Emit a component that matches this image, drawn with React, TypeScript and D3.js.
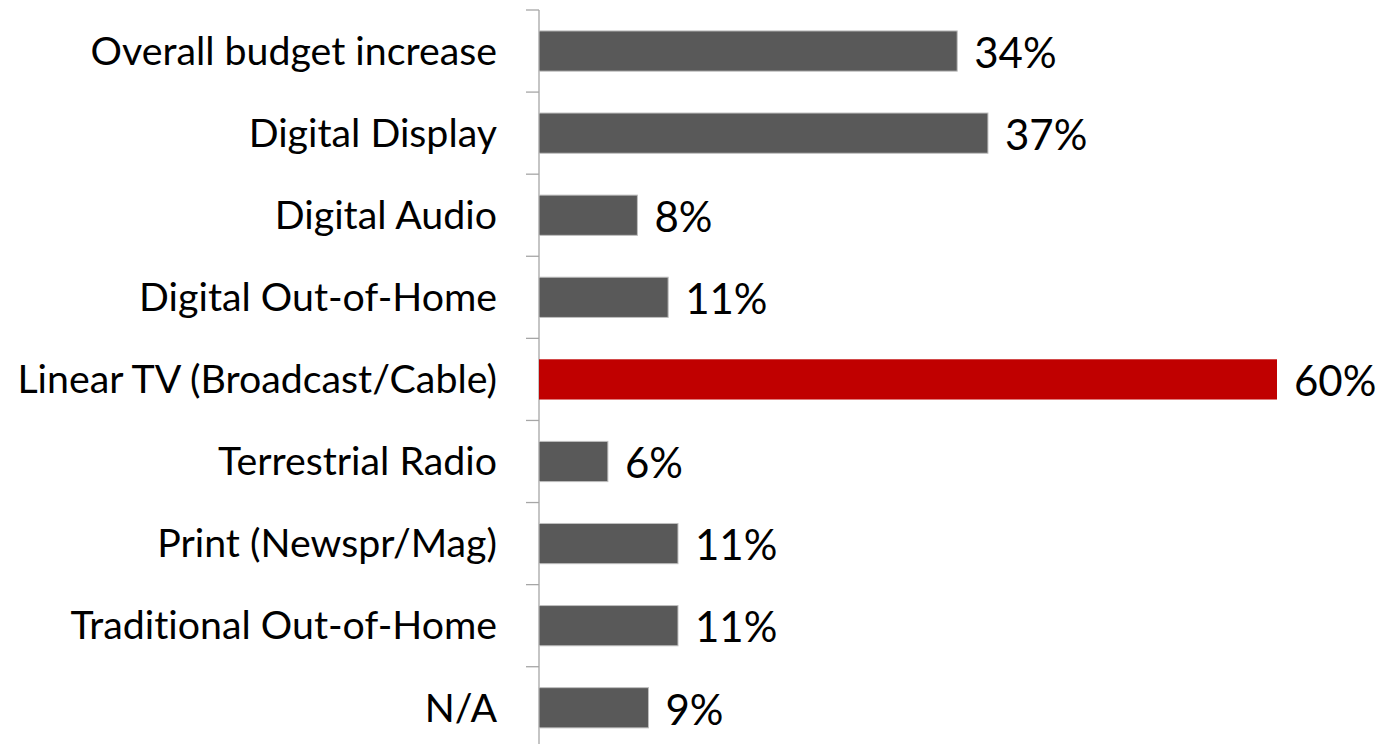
import { useEffect, useRef } from "react";
import * as d3 from "d3";

const categories = [
  "Overall budget increase",
  "Digital Display",
  "Digital Audio",
  "Digital Out-of-Home",
  "Linear TV (Broadcast/Cable)",
  "Terrestrial Radio",
  "Print (Newspr/Mag)",
  "Traditional Out-of-Home",
  "N/A",
];
const values = [34, 36.5, 8, 10.5, 60, 5.6, 11.3, 11.3, 8.9];
const valueLabels = ["34%", "37%", "8%", "11%", "60%", "6%", "11%", "11%", "9%"];
const highlight = "Linear TV (Broadcast/Cable)";

const W = 1381;
const H = 744;
const FONT = "Lato, 'Open Sans', sans-serif";

export default function App() {
  const ref = useRef<SVGSVGElement>(null);

  useEffect(() => {
    document.body.style.margin = "0";
    const svg = d3.select(ref.current);
    svg.selectAll("*").remove();

    const x0 = 539;
    const top = 10;
    const step = 82.09;

    const x = d3.scaleLinear().domain([0, 60]).range([x0, 1277]);
    const yAxis = d3
      .scaleBand()
      .domain(categories)
      .range([top, top + step * categories.length])
      .padding(0);
    const y = d3
      .scaleBand()
      .domain(categories)
      .range([top, top + step * categories.length])
      .paddingInner(0.51)
      .paddingOuter(0.255);

    const data = categories.map((c, i) => ({ c, v: values[i], label: valueLabels[i] }));

    // axis line + ticks at band boundaries
    const axis = svg.append("g").attr("stroke", "#a6a6a6").attr("stroke-width", 1.3);
    axis.append("line").attr("x1", x0).attr("x2", x0).attr("y1", top).attr("y2", H);
    axis
      .selectAll("line.tick")
      .data(categories)
      .join("line")
      .attr("class", "tick")
      .attr("x1", x0 - 13)
      .attr("x2", x0)
      .attr("y1", (d) => yAxis(d) ?? 0)
      .attr("y2", (d) => yAxis(d) ?? 0);

    svg
      .selectAll("rect.bar")
      .data(data)
      .join("rect")
      .attr("class", "bar")
      .attr("x", x(0))
      .attr("y", (d) => y(d.c) ?? 0)
      .attr("width", (d) => x(d.v) - x(0))
      .attr("height", y.bandwidth())
      .attr("fill", (d) => (d.c === highlight ? "#c00000" : "#595959"))
      .attr("stroke", (d) => (d.c === highlight ? "none" : "#bfbfbf"))
      .attr("stroke-width", 1);

    svg
      .selectAll("text.cat")
      .data(data)
      .join("text")
      .attr("class", "cat")
      .attr("x", 497)
      .attr("y", (d) => (y(d.c) ?? 0) + y.bandwidth() / 2)
      .attr("dy", "0.35em")
      .attr("text-anchor", "end")
      .attr("font-family", FONT)
      .attr("font-size", 39.3)
      .style("font-variant-ligatures", "none")
      .attr("fill", "#000")
      .text((d) => d.c);

    svg
      .selectAll("text.val")
      .data(data)
      .join("text")
      .attr("class", "val")
      .attr("x", (d) => x(d.v) + 17)
      .attr("y", (d) => (y(d.c) ?? 0) + y.bandwidth() / 2)
      .attr("dy", "0.4em")
      .attr("font-family", FONT)
      .attr("font-size", 42)
      .attr("fill", "#000")
      .text((d) => d.label);
  }, []);

  return <svg ref={ref} width={W} height={H} style={{ display: "block", background: "#fff" }} />;
}
